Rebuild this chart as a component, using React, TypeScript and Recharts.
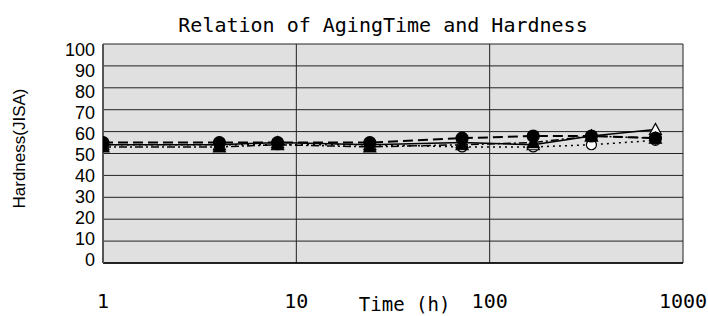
import React from "react";
import {
  CartesianGrid,
  Label,
  Line,
  LineChart,
  XAxis,
  YAxis,
} from "recharts";

// aging time in hours
const hours = [1, 4, 8, 24, 72, 168, 336, 720];

// hardness (JIS A) per sample
const solidTriangle = [54, 54, 55, 54, 55, 54, 58, 61];
const dashedCircle = [55, 55, 55, 55, 57, 58, 58, 57];
const dottedCircle = [54, 54, 54, 54, 53, 53, 54, 56];
const dashDotTriangle = [53, 53, 54, 53, 54, 55, 58, 57];

const xTicks = [1, 10, 100, 1000];
const yTicks = [0, 10, 20, 30, 40, 50, 60, 70, 80, 90, 100];

const data = hours.map((t, i) => ({
  t,
  a: solidTriangle[i],
  b: dashedCircle[i],
  c: dottedCircle[i],
  d: dashDotTriangle[i],
}));

const monoFont = "'DejaVu Sans Mono', monospace";
const sansFont = "'Liberation Sans', Arial, sans-serif";

const triangle = (filled: boolean) => (props: any) => {
  const { cx, cy } = props;
  if (cx == null || cy == null) return <g key={`n-${props.index}`} />;
  return (
    <path
      key={`t-${filled}-${props.index}`}
      d={`M${cx},${cy - 6} L${cx + 6},${cy + 5} L${cx - 6},${cy + 5} Z`}
      fill={filled ? "#000" : "#fff"}
      stroke="#000"
      strokeWidth={1.2}
    />
  );
};

const circle = (filled: boolean) => (props: any) => {
  const { cx, cy } = props;
  if (cx == null || cy == null) return <g key={`n-${props.index}`} />;
  return (
    <circle
      key={`c-${filled}-${props.index}`}
      cx={cx}
      cy={cy}
      r={filled ? 6 : 5}
      fill={filled ? "#000" : "#fff"}
      stroke="#000"
      strokeWidth={1.2}
    />
  );
};

const XTick = (props: any) => {
  const { x, payload } = props;
  return (
    <text
      x={x}
      y={308}
      textAnchor="middle"
      fontFamily={monoFont}
      fontSize={20}
      fill="#000"
    >
      {payload.value}
    </text>
  );
};

const YTick = (props: any) => {
  const { x, y, payload } = props;
  const shift = -3 + payload.value * 0.09;
  return (
    <text
      x={x}
      y={y + shift}
      dy={6}
      textAnchor="end"
      fontFamily={sansFont}
      fontSize={18}
      fill="#000"
    >
      {payload.value}
    </text>
  );
};

export default function App() {
  return (
    <div style={{ position: "absolute", left: 0, top: 0, width: 708, height: 316, background: "#fff" }}>
      <svg width={708} height={316} style={{ position: "absolute", left: 0, top: 0 }}>
        <text
          x={383}
          y={32}
          textAnchor="middle"
          fontFamily={monoFont}
          fontSize={20}
          fill="#000"
        >
          Relation of AgingTime and Hardness
        </text>
      </svg>
      <LineChart
        width={708}
        height={316}
        data={data}
        margin={{ top: 44, right: 25, left: 21, bottom: 8 }}
        style={{ position: "absolute", left: 0, top: 0 }}
      >
        <CartesianGrid
          fill="#e0e0e0"
          stroke="#222"
          strokeWidth={1}
          strokeOpacity={1}
        />
        <XAxis
          dataKey="t"
          type="number"
          scale="log"
          domain={[1, 1000]}
          ticks={xTicks}
          allowDataOverflow
          height={45}
          tickLine={false}
          axisLine={{ stroke: "#000", strokeWidth: 1.5 }}
          tick={<XTick />}
          interval={0}
        >
          <Label
            content={(p: any) => {
              const vb = p.viewBox;
              return (
                <text
                  x={vb.x + vb.width * 0.52}
                  y={vb.y + 48}
                  textAnchor="middle"
                  fontFamily={monoFont}
                  fontSize={19}
                  fill="#000"
                >
                  Time (h)
                </text>
              );
            }}
          />
        </XAxis>
        <YAxis
          type="number"
          domain={[0, 100]}
          ticks={yTicks}
          width={82}
          tickLine={false}
          tickMargin={2}
          axisLine={{ stroke: "#555", strokeWidth: 2 }}
          tick={<YTick />}
          interval={0}
        >
          <Label
            content={(p: any) => {
              const vb = p.viewBox;
              const cy = vb.y + vb.height / 2 - 5;
              return (
                <text
                  x={19}
                  y={cy}
                  transform={`rotate(-90, 19, ${cy})`}
                  textAnchor="middle"
                  dominantBaseline="central"
                  fontFamily={sansFont}
                  fontSize={17}
                  fill="#000"
                >
                  Hardness(JISA)
                </text>
              );
            }}
          />
        </YAxis>
        <Line
          dataKey="c"
          stroke="#000"
          strokeWidth={1.5}
          strokeDasharray="2 4"
          dot={circle(false)}
          isAnimationActive={false}
        />
        <Line
          dataKey="a"
          stroke="#000"
          strokeWidth={1.5}
          dot={triangle(false)}
          isAnimationActive={false}
        />
        <Line
          dataKey="d"
          stroke="#000"
          strokeWidth={1.5}
          strokeDasharray="8 3 2 3"
          dot={triangle(true)}
          isAnimationActive={false}
        />
        <Line
          dataKey="b"
          stroke="#000"
          strokeWidth={2}
          strokeDasharray="10 5"
          dot={circle(true)}
          isAnimationActive={false}
        />
      </LineChart>
    </div>
  );
}
